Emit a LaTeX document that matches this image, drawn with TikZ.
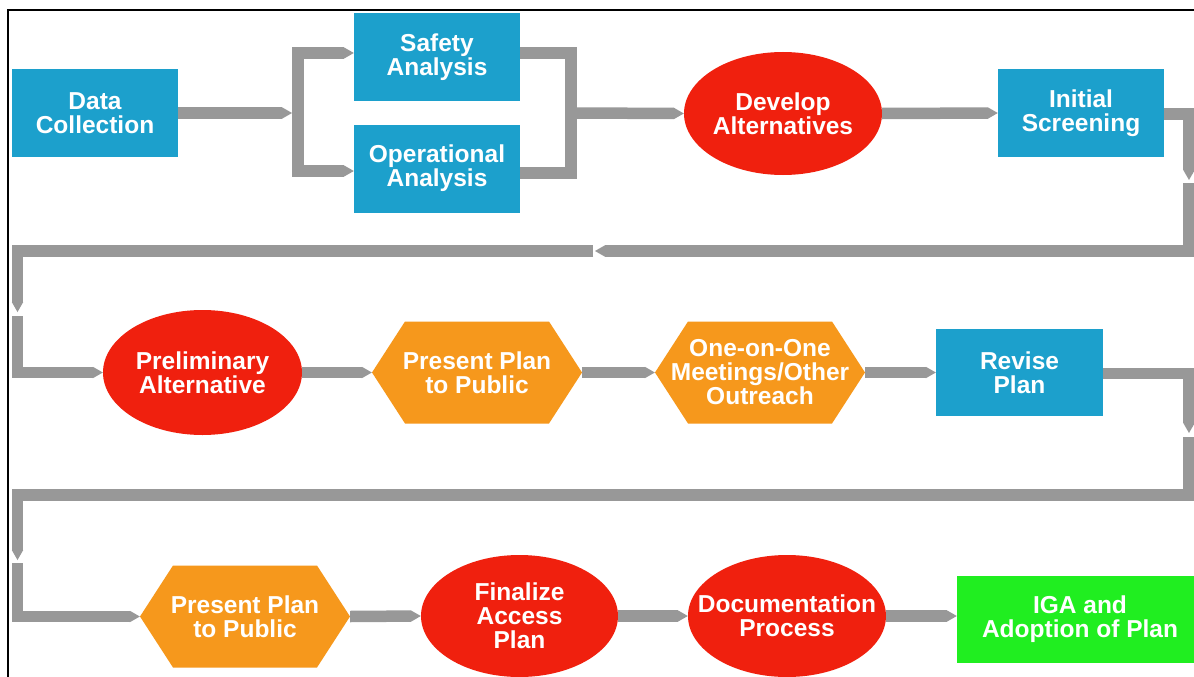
\documentclass[tikz,border=0pt]{standalone}
\usepackage{fontspec}
\setmainfont{Liberation Sans}
\usetikzlibrary{shapes.geometric,arrows.meta,calc}
\definecolor{boxblue}{RGB}{28,160,204}
\definecolor{ellred}{RGB}{240,32,14}
\definecolor{hexorange}{RGB}{246,152,28}
\definecolor{igagreen}{RGB}{32,238,32}
\definecolor{arrowgray}{RGB}{152,152,152}
\begin{document}
\begin{tikzpicture}[x=1pt,y=-1pt,
  txt/.style={font=\bfseries\fontsize{24.5}{24}\selectfont, text=white, align=center, inner sep=0pt},
  bluebox/.style={txt, fill=boxblue, minimum width=166pt, minimum height=88pt},
  greenbox/.style={txt, fill=igagreen, minimum width=246pt, minimum height=87pt},
  redell/.style={txt, ellipse, fill=ellred, inner xsep=-40pt, inner ysep=-20pt, minimum width=198pt, minimum height=123pt},
  hexa/.style={txt, minimum width=210pt, minimum height=102pt,
    path picture={\fill[hexorange] (path picture bounding box.west)
      -- ([xshift=33pt]path picture bounding box.north west)
      -- ([xshift=-33pt]path picture bounding box.north east)
      -- (path picture bounding box.east)
      -- ([xshift=-33pt]path picture bounding box.south east)
      -- ([xshift=33pt]path picture bounding box.south west) -- cycle;}},
  conn/.style={draw=arrowgray, line width=11.5pt, line cap=butt, line join=miter},
  tipped/.style={-{Triangle[width=11.5pt,length=10pt,line width=0pt]}},
  bothtipped/.style={{Triangle[width=11.5pt,length=10pt,line width=0pt]}-{Triangle[width=11.5pt,length=10pt,line width=0pt]}}
]
\useasboundingbox (0,0) rectangle (1194,677);
\fill[white] (0,0) rectangle (1194,677);
\draw[black, line width=2.5pt] (8,690) -- (8,10) -- (1200,10);

% row 1
\node[bluebox] (dc) at (95,113) {Data\\Collection};
\node[bluebox] (sa) at (437,57) {Safety\\Analysis};
\node[bluebox] (oa) at (437,168.5) {Operational\\Analysis};
\node[redell] (da) at (783,113.5) {Develop\\Alternatives};
\node[bluebox] (is) at (1081,113) {Initial\\Screening};

% row 2
\node[redell, minimum width=199pt, minimum height=125pt] (pa) at (202.5,372.5) {Preliminary\\Alternative};
\node[hexa] (pp1) at (477,372.5) {Present Plan\\to Public};
\node[hexa] (oo) at (760,372.5) {One-on-One\\Meetings/Other\\Outreach};
\node[bluebox, minimum width=167pt, minimum height=87pt] (rp) at (1019.5,372.5) {Revise\\Plan};

% row 3
\node[hexa] (pp2) at (245,616.5) {Present Plan\\to Public};
\node[redell, minimum width=197pt, minimum height=122pt] (fa) at (519.5,616) {Finalize\\Access\\Plan};
\node[redell, minimum height=122pt] (dp) at (787,616) {Documentation\\Process};
\node[greenbox] (iga) at (1080,619.5) {IGA and\\Adoption of Plan};

% coordinates for bends and breaks
\coordinate (bl) at (298,113);
\coordinate (br) at (571,113);
\coordinate (r1a) at (1189,180);
\coordinate (r1b) at (1189,183);
\coordinate (m1a) at (595,251);
\coordinate (m1b) at (593,251);
\coordinate (l1a) at (17.5,312);
\coordinate (l1b) at (17.5,316);
\coordinate (r2a) at (1189,433);
\coordinate (r2b) at (1189,437);
\coordinate (l2a) at (17.5,560);
\coordinate (l2b) at (17.5,563);

% row 1 connectors
\draw[conn, tipped] (dc.east) -- ([xshift=-6pt]bl);
\draw[conn, bothtipped] (sa.west |- 0,53) -- (bl |- 0,53) -- (bl |- 0,171) -- (oa.west |- 0,171);
\draw[conn] (sa.east |- 0,53) -- (br |- 0,53) -- (br |- 0,173) -- (oa.east |- 0,173);
\draw[conn, tipped] (br) -- (da.west);
\draw[conn, tipped] (da.east) -- (is.west);
\draw[conn, tipped] (is.east |- 0,114) -- (r1a |- 0,114) -- (r1a);
\draw[conn, tipped] (r1b) -- (r1b |- m1a) -- (m1a);
\draw[conn, tipped] (m1b) -- (l1a |- m1b) -- (l1a);
\draw[conn, tipped] (l1b) -- (l1b |- pa.west) -- (pa.west);

% row 2 connectors
\draw[conn, tipped] (pa.east) -- (pp1.west);
\draw[conn, tipped] (pp1.east) -- (oo.west);
\draw[conn, tipped] (oo.east) -- (rp.west);
\draw[conn, tipped] (rp.east |- 0,373.5) -- (r2a |- 0,373.5) -- (r2a);
\draw[conn, tipped] (r2b) -- (1189,495) -- (l2a |- 0,495) -- (l2a);
\draw[conn, tipped] (l2b) -- (l2b |- pp2.west) -- (pp2.west);

% row 3 connectors
\draw[conn, tipped] (pp2.east) -- (fa.west);
\draw[conn, tipped] (fa.east) -- (dp.west);
\draw[conn, tipped] (dp.east) -- (iga.west |- dp.east);
\end{tikzpicture}
\end{document}
